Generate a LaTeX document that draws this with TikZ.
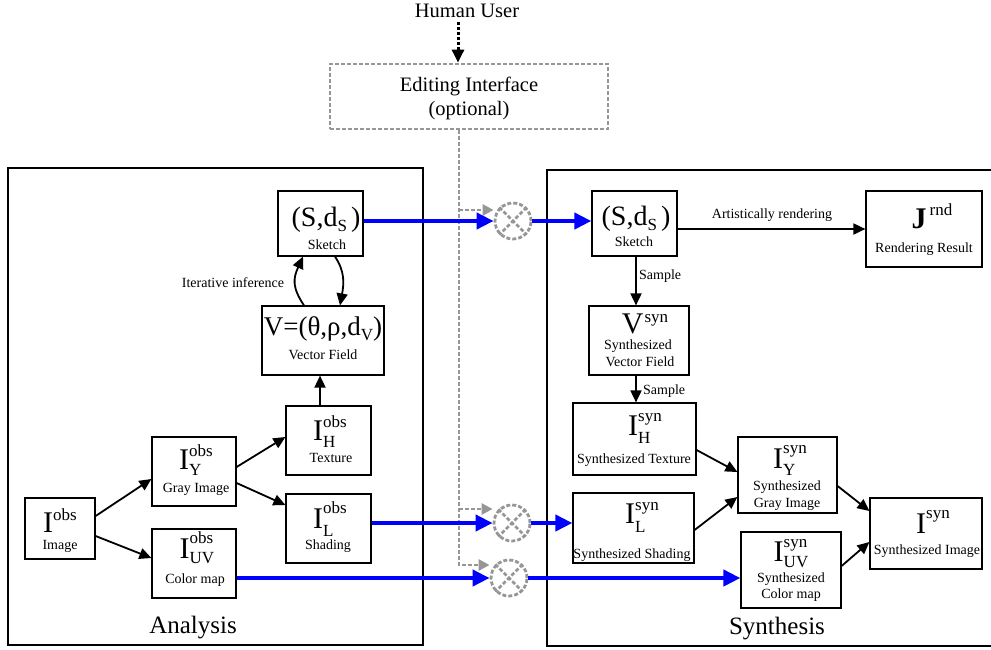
\documentclass[tikz,border=0pt]{standalone}
\usepackage{fontspec}
\setmainfont{Liberation Serif}
\usetikzlibrary{arrows.meta,calc}
\definecolor{edgegray}{RGB}{150,150,150}
\newcommand{\myscr}{\fontsize{17}{17}\selectfont}
% symbol with superscript and subscript: base, sup, sub, raise, lower
\newcommand{\symSS}[5]{#1\setbox0\hbox{\myscr #2}\setbox2\hbox{\myscr #3}%
  \dimen0=\wd0 \ifdim\wd2>\dimen0 \dimen0=\wd2\fi
  \rlap{\raise#4pt\copy0}\rlap{\lower#5pt\copy2}\kern\dimen0}
\begin{document}
\begin{tikzpicture}[x=1pt,y=-1pt,
  box/.style={draw,line width=1.2pt,inner sep=0pt},
  frame/.style={draw,line width=2pt,inner sep=0pt},
  big/.style={font=\fontsize{30}{30}\selectfont,anchor=base,inner sep=0pt},
  bigm/.style={font=\fontsize{28}{28}\selectfont,anchor=base,inner sep=0pt},
  small/.style={font=\fontsize{14}{14}\selectfont,anchor=base,inner sep=0pt},
  mid/.style={font=\fontsize{20.5}{20.5}\selectfont,anchor=base,inner sep=0pt},
  huge/.style={font=\fontsize{25}{25}\selectfont,anchor=base,inner sep=0pt},
  gdash/.style={draw=edgegray,line width=2.8pt,dash pattern=on 4pt off 2pt},
  gbox/.style={gdash,inner sep=0pt},
  mult/.style={circle,gdash,minimum size=36pt,inner sep=0pt},
  garr/.style={gdash,-{Triangle[length=11pt,width=11pt]},edgegray},
  arr/.style={draw,line width=1.8pt,-{Triangle[length=12pt,width=11pt]}},
  barr/.style={draw=blue,line width=4pt,-{Triangle[length=17pt,width=16pt]},blue},
  dotarr/.style={draw,line width=3pt,dash pattern=on 3pt off 2pt,-{Triangle[length=13pt,width=12pt]}}
]
\useasboundingbox (0,0) rectangle (991,649);

% frames
\node[frame,minimum width=415,minimum height=477] (anaFrame) at (215.5,406.5) {};
\node[frame,minimum width=453,minimum height=476] (synFrame) at (773.5,408) {};
\node[huge] (anaLabel) at (193,633) {Analysis};
\node[huge] (synLabel) at (777,634) {Synthesis};

% top
\node[mid] (hu) at (467,17) {Human User};
\node[gbox,minimum width=278,minimum height=65] (edit) at (469,96.5) {};
\node[mid] (editT1) at (469,91) {Editing Interface};
\node[mid] (editT2) at (469,115) {(optional)};
\coordinate (huA) at ($(hu.south)+(-9,5)$);
\draw[dotarr] (huA) -- (huA |- edit.north);

% analysis boxes
\node[box,minimum width=85,minimum height=65] (aSketch) at (320.5,223.5) {};
\node[box,minimum width=122,minimum height=69] (aVF) at (323,340.5) {};
\node[box,minimum width=85,minimum height=69] (aTex) at (328.5,440.5) {};
\node[box,minimum width=84,minimum height=69] (aGray) at (194,471.5) {};
\node[box,minimum width=70,minimum height=61] (aImg) at (60,528.5) {};
\node[box,minimum width=85,minimum height=69] (aShad) at (328.5,528.5) {};
\node[box,minimum width=84,minimum height=69] (aUV) at (194,563.5) {};

\node[bigm] (aSketchT) at (326,226) {(S,d\lower5pt\hbox{\myscr S}\kern4pt)};
\node[small] (aSketchL) at (327,249) {Sketch};
\node[font=\fontsize{27}{27}\selectfont,anchor=base,inner sep=0pt] (aVFT) at (323,335) {V=(θ,ρ,d\lower5pt\hbox{\myscr V})};
\node[small] (aVFL) at (323,359) {Vector Field};
\node[big] (aTexT) at (330,440) {\symSS{I}{obs}{H}{13}{7}};
\node[small] (aTexL) at (331,462) {Texture};
\node[big] (aGrayT) at (196,469) {\symSS{I}{obs}{Y}{13}{6}};
\node[small] (aGrayL) at (196,492) {Gray Image};
\node[big] (aImgT) at (60,532) {\symSS{I}{obs}{}{12}{0}};
\node[small] (aImgL) at (60,549) {Image};
\node[big] (aShadT) at (330,528) {\symSS{I}{obs}{L}{15}{8}};
\node[small] (aShadL) at (328,549) {Shading};
\node[big] (aUVT) at (197,558) {\symSS{I}{obs}{UV}{15}{5}};
\node[small] (aUVL) at (195,583) {Color map};
\node[small] (iterL) at (233,287) {Iterative inference};

% synthesis boxes
\node[box,minimum width=85,minimum height=65] (sSketch) at (634.5,223.5) {};
\node[box,minimum width=116,minimum height=76] (sRender) at (924,229) {};
\node[box,minimum width=100,minimum height=69] (sVF) at (639,340.5) {};
\node[box,minimum width=123,minimum height=72] (sTex) at (634.5,439) {};
\node[box,minimum width=121,minimum height=70] (sShad) at (633.5,528) {};
\node[box,minimum width=99,minimum height=76] (sGray) at (787.5,475) {};
\node[box,minimum width=100,minimum height=76] (sUV) at (791,570) {};
\node[box,minimum width=112,minimum height=71] (sImg) at (926,533.5) {};

\node[bigm] (sSketchT) at (636,225) {(S,d\lower5pt\hbox{\myscr S}\kern4pt)};
\node[small] (sSketchL) at (634,246) {Sketch};
\node[big] (sRenderT) at (932,228) {\textbf{J}\kern3pt\raise13pt\hbox{\myscr rnd}};
\node[small] (sRenderL) at (924,252) {Rendering Result};
\node[big] (sVFT) at (645,333) {V\kern1pt\raise11pt\hbox{\myscr syn}};
\node[small] (sVFL1) at (638,349) {Synthesized};
\node[small] (sVFL2) at (640,366) {Vector Field};
\node[big] (sTexT) at (645,435) {\symSS{I}{syn}{H}{14}{8}};
\node[small] (sTexL) at (634,463) {Synthesized Texture};
\node[big] (sShadT) at (642,523) {\symSS{I}{syn}{L}{13}{9}};
\node[small] (sShadL) at (632,558) {Synthesized Shading};
\node[big] (sGrayT) at (790,468) {\symSS{I}{syn}{Y}{15}{7}};
\node[small] (sGrayL1) at (787,490) {Synthesized};
\node[small] (sGrayL2) at (787,507) {Gray Image};
\node[big] (sUVT) at (791,561) {\symSS{I}{syn}{UV}{14}{6}};
\node[small] (sUVL1) at (791,582) {Synthesized};
\node[small] (sUVL2) at (791,598) {Color map};
\node[big] (sImgT) at (933,533) {\symSS{I}{syn}{}{15}{0}};
\node[small] (sImgL) at (927,554) {Synthesized Image};

% multipliers
\node[mult] (c1) at (513,221) {};
\node[mult] (c2) at (512,523) {};
\node[mult] (c3) at (509,578) {};
\foreach \c in {c1,c2,c3}{
  \draw[gdash] (\c.north west) -- (\c.south east);
  \draw[gdash] (\c.north east) -- (\c.south west);
}

% gray dashed control lines
\coordinate (ej) at (459,129.5);
\coordinate (j1) at (459,210);
\coordinate (j2) at (459,509);
\coordinate (j3) at (459,565);
\draw[garr] (ej) -- (j3) -- (j3 -| c3.west);
\draw[garr] (j1) -- (j1 -| c1.west);
\draw[garr] (j2) -- (j2 -| c2.west);

% blue arrows
\draw[barr] (aSketch.east |- c1) -- (c1.west);
\draw[barr] (c1.east) -- (sSketch.west |- c1);
\draw[barr] (aShad.east |- c2) -- (c2.west);
\draw[barr] (c2.east) -- (sShad.west |- c2);
\draw[barr] (aUV.east |- c3) -- (c3.west);
\draw[barr] (c3.east) -- (sUV.west |- c3);

% analysis arrows
\draw[arr] ($(aImg.east)+(0,-12.5)$) -- ($(aGray.west)+(0,7.5)$);
\draw[arr] ($(aImg.east)+(0,7.5)$) -- ($(aUV.west)+(0,-5.5)$);
\draw[arr] ($(aGray.east)+(0,-4.5)$) -- ($(aTex.west)+(0,-3.5)$);
\draw[arr] ($(aGray.east)+(0,11.5)$) -- ($(aShad.west)+(0,-23.5)$);
\coordinate (texUp) at ($(aTex.north)+(-8.5,0)$);
\draw[arr] (texUp) -- (texUp |- aVF.south);
\draw[arr] ($(aVF.north)+(-19,0)$) .. controls +(-12,-18) and +(-10,22) .. ($(aSketch.south)+(-17.5,0)$);
\draw[arr] ($(aSketch.south)+(14.5,0)$) .. controls +(10,15) and +(4,-22) .. ($(aVF.north)+(17,0)$);

% synthesis arrows
\draw[arr] (sSketch.east |- sRender.west) -- (sRender.west);
\node[small] (artL) at (772,218) {Artistically rendering};
\coordinate (smp) at ($(sSketch.south)+(1.5,0)$);
\draw[arr] (smp) -- (smp |- sVF.north);
\draw[arr] (smp |- sVF.south) -- (smp |- sTex.north);
\node[small,anchor=base west] (samp1) at (639,279) {Sample};
\node[small,anchor=base west] (samp2) at (643,394) {Sample};
\draw[arr] ($(sTex.east)+(0,11)$) -- ($(sGray.west)+(0,-3)$);
\draw[arr] ($(sShad.east)+(0,2)$) -- ($(sGray.west)+(0,22)$);
\draw[arr] ($(sGray.east)+(0,11)$) -- ($(sImg.west)+(0,-22.5)$);
\draw[arr] ($(sUV.east)+(0,-4)$) -- ($(sImg.west)+(0,8.5)$);
\end{tikzpicture}
\end{document}
